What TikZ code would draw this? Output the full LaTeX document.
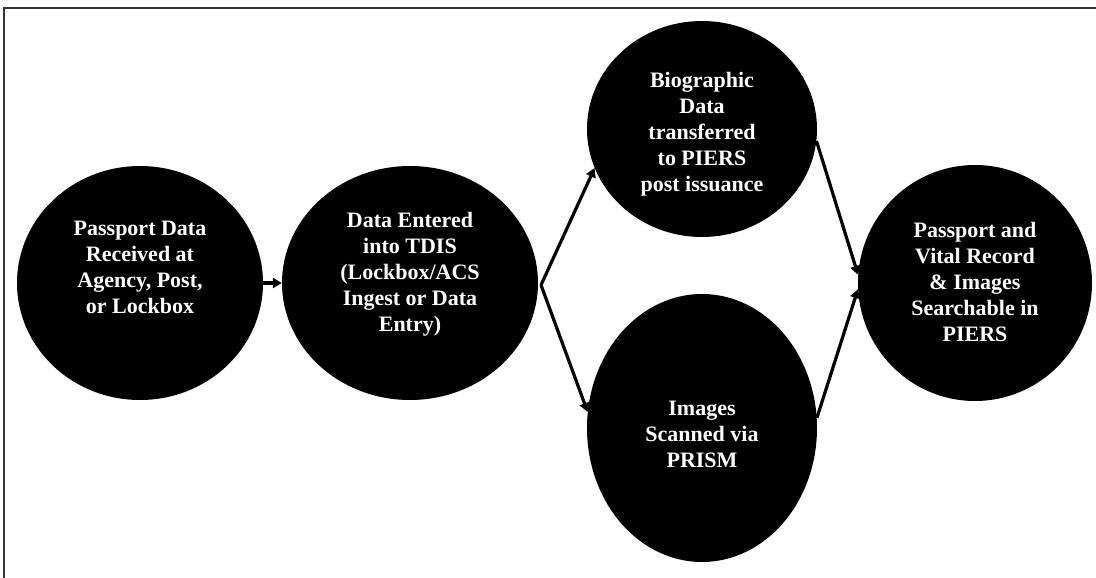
\documentclass[tikz,border=0pt]{standalone}
\usepackage{fontspec}
\setmainfont{Liberation Serif}
\usetikzlibrary{arrows.meta,shapes.geometric}
\begin{document}
\begin{tikzpicture}[x=1pt,y=-1pt,
  blob/.style={ellipse,fill=black,draw=none,inner sep=0pt},
  txt/.style={text=white,align=center,font=\bfseries\fontsize{22}{26}\selectfont,inner sep=0pt},
  conn/.style={line width=3.2pt,draw=black},
  arr/.style={conn,-{Triangle[length=9pt,width=10pt]}},
  frame/.style={line width=1.5pt,draw=black!80}]
\useasboundingbox (0,0) rectangle (1096,578);
\coordinate (ftl) at (4,8);
\coordinate (ftr) at (1096,8);
\coordinate (fbl) at (4,578);
\draw[frame] (ftr) -- (ftl) -- (fbl);
% circles
\node[blob,minimum width=246pt,minimum height=234pt] (c1) at (140,283) {};
\node[blob,minimum width=256pt,minimum height=234pt] (c2) at (410,283) {};
\node[blob,minimum width=230pt,minimum height=216pt] (c3) at (702,129) {};
\node[blob,minimum width=230pt,minimum height=268pt] (c4) at (702,428) {};
\node[blob,minimum width=234pt,minimum height=236pt] (c5) at (975,283) {};
% texts
\node[txt] (t1) at (140,267) {Passport Data\\Received at\\Agency, Post,\\or Lockbox};
\node[txt] (t2) at (410,274) {Data Entered\\into TDIS\\(Lockbox/ACS\\Ingest or Data\\Entry)};
\node[txt] (t3) at (702,134) {Biographic\\Data\\transferred\\to PIERS\\post issuance};
\node[txt] (t4) at (702,434) {Images\\Scanned via\\PRISM};
\node[txt] (t5) at (975,282) {Passport and\\Vital Record\\\& Images\\Searchable in\\PIERS};
% connectors
\draw[arr] (c1.east) -- (c2.west);
\coordinate (b) at (541,285);
\draw[arr] (b) -- (c3.200);
\draw[arr] (b) -- (c4.172);
\draw[arr] (c3.354) -- (c5.176);
\draw[arr] (c4.5) -- (c5.183);
\end{tikzpicture}
\end{document}
